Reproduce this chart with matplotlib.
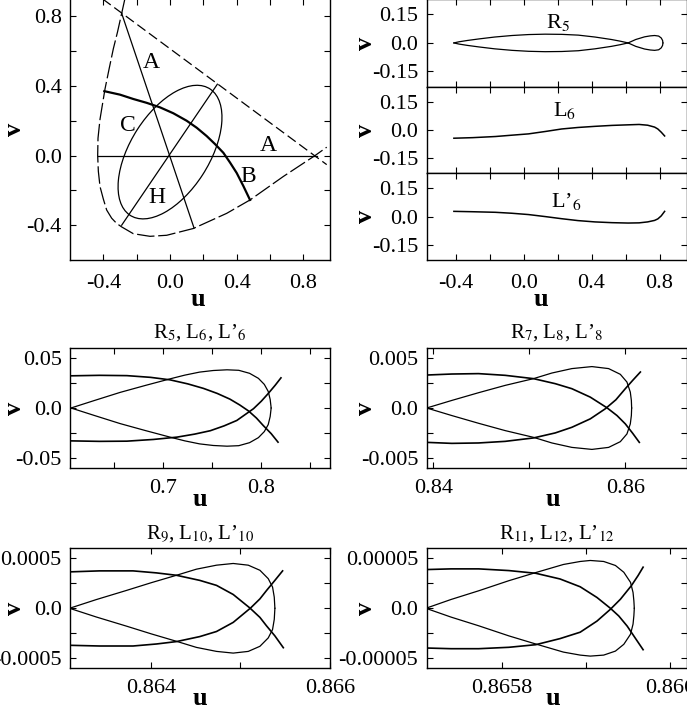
import numpy as np
import matplotlib
matplotlib.use("Agg")
import matplotlib.pyplot as plt
from matplotlib.patches import Ellipse
from matplotlib.ticker import FixedLocator

plt.rcParams['font.family'] = ['Liberation Serif', 'DejaVu Serif']
plt.rcParams['mathtext.fontset'] = 'stix'
plt.rcParams['axes.unicode_minus'] = False
plt.rcParams['font.size'] = 16

# ---- top-left: phase plane sketch ----
bound_u = [-0.27, -0.29, -0.315, -0.34, -0.365, -0.39, -0.42, -0.432, -0.434, -0.43, -0.42,
           -0.40, -0.38, -0.35, -0.32, -0.29, -0.22, -0.12, -0.02, 0.14, 0.34, 0.48, 0.68,
           0.87, 0.94]
bound_v = [0.904, 0.817, 0.71, 0.614, 0.50, 0.383, 0.209, 0.10, 0.0, -0.09, -0.178,
           -0.25, -0.313, -0.36, -0.39, -0.41, -0.449, -0.464, -0.458, -0.419, -0.332, -0.255,
           -0.12, 0.0, 0.048]
diag_u = [-0.41, 0.94]
diag_v = [0.904, -0.052]
axis_u = [-0.434, 0.88]
axis_v = [0.0, 0.0]
lineA_u = [-0.29, 0.144]
lineA_v = [0.817, -0.416]
lineH_u = [-0.29, 0.284]
lineH_v = [-0.40, 0.41]
bc_u = [-0.394, -0.30, -0.22, -0.14, -0.06, 0.02, 0.10, 0.16, 0.22, 0.27, 0.32, 0.36, 0.40,
        0.44, 0.48]
bc_v = [0.37, 0.35, 0.325, 0.303, 0.277, 0.243, 0.20, 0.16, 0.112, 0.066, 0.016, -0.04,
        -0.10, -0.175, -0.255]
ell_center = (0.0, 0.02)
ell_width = 0.87
ell_height = 0.47
ell_angle = 56
region_labels = ['A', 'C', 'A', 'B', 'H']
region_u = [-0.11, -0.254, 0.59, 0.47, -0.08]
region_v = [0.537, 0.174, 0.06, -0.12, -0.24]

# ---- top-right: R5, L6, L'6 full ----
r5_big_u = [-0.41, -0.38, -0.33, -0.263, -0.17, -0.068, 0.03, 0.127, 0.225, 0.322, 0.42,
            0.517, 0.57, 0.615]
r5_big_v = [0.0, 0.006, 0.013, 0.021, 0.031, 0.039, 0.044, 0.046, 0.045, 0.041, 0.031,
            0.018, 0.009, 0.0]
r5_small_u = [0.615, 0.66, 0.712, 0.745, 0.771, 0.795, 0.81, 0.818, 0.82]
r5_small_v = [0.0, 0.018, 0.032, 0.037, 0.039, 0.036, 0.026, 0.013, 0.0]
l6_full_u = [-0.41, -0.3, -0.166, -0.07, 0.029, 0.13, 0.224, 0.32, 0.42, 0.52, 0.615, 0.68,
             0.73, 0.771, 0.79, 0.81, 0.83]
l6_full_v = [-0.044, -0.041, -0.035, -0.028, -0.021, -0.008, 0.005, 0.013, 0.019, 0.024,
             0.027, 0.029, 0.025, 0.015, 0.005, -0.012, -0.032]
l6p_full_v = [0.028, 0.026, 0.023, 0.018, 0.011, 0.0, -0.011, -0.021, -0.028, -0.032,
              -0.034, -0.033, -0.028, -0.020, -0.012, 0.004, 0.028]

# ---- zoomed panels: loop upper half, L and L' ----
z5_loop_u = [0.606, 0.630, 0.656, 0.682, 0.707, 0.722, 0.737, 0.751, 0.765, 0.777, 0.788,
             0.797, 0.803, 0.807, 0.809, 0.810]
z5_loop_v = [0.0, 0.0075, 0.0155, 0.0225, 0.029, 0.0327, 0.0357, 0.0373, 0.0380, 0.0375,
             0.0345, 0.0295, 0.0235, 0.0165, 0.0085, 0.0]
z5_l_u = [0.605, 0.635, 0.663, 0.687, 0.707, 0.725, 0.741, 0.755, 0.768, 0.778, 0.787, 0.795,
          0.802, 0.810, 0.817]
z5_l_v = [0.032, 0.0325, 0.0322, 0.0305, 0.028, 0.024, 0.0195, 0.0145, 0.0088, 0.003, -0.003,
          -0.010, -0.0175, -0.0255, -0.034]
z5_lp_u = [0.605, 0.635, 0.663, 0.690, 0.714, 0.732, 0.748, 0.762, 0.775, 0.784, 0.792, 0.800,
           0.807, 0.814, 0.820]
z5_lp_v = [-0.0327, -0.0332, -0.0330, -0.0313, -0.029, -0.026, -0.0226, -0.0178, -0.0124,
           -0.0062, -0.0007, 0.0068, 0.0144, 0.0225, 0.030]

z7_loop_u = [0.83930, 0.84191, 0.84470, 0.84748, 0.85043, 0.85235, 0.85443, 0.85652, 0.85826,
             0.85948, 0.86017, 0.86052, 0.86063, 0.86066]
z7_loop_v = [0.0, 0.00075, 0.00152, 0.00225, 0.00292, 0.00348, 0.00392, 0.00412, 0.00392,
             0.00335, 0.00258, 0.00158, 0.00075, 0.0]
z7_l_u = [0.83930, 0.84191, 0.84470, 0.84748, 0.85043, 0.85270, 0.85443, 0.85635, 0.85809,
          0.85913, 0.86000, 0.86077, 0.86146]
z7_l_v = [0.00328, 0.00338, 0.00342, 0.00325, 0.00292, 0.00242, 0.00192, 0.00108, 0.00002,
          -0.00075, -0.00158, -0.00252, -0.00342]
z7_lp_u = [0.83930, 0.84191, 0.84470, 0.84748, 0.85043, 0.85270, 0.85443, 0.85635, 0.85791,
           0.85902, 0.86000, 0.86077, 0.86157]
z7_lp_v = [-0.00342, -0.00352, -0.00348, -0.00332, -0.00298, -0.00248, -0.00192, -0.00108,
           -0.00008, 0.00082, 0.00192, 0.00275, 0.00358]

z9_loop_u = [0.863095, 0.863393, 0.863728, 0.864007, 0.864287, 0.864510, 0.864734, 0.864920,
             0.865088, 0.865218, 0.865311, 0.865359, 0.865378, 0.865385]
z9_loop_v = [0.0, 0.000087, 0.000178, 0.000256, 0.000330, 0.000391, 0.000431, 0.000448,
             0.000431, 0.000380, 0.000296, 0.000212, 0.000111, 0.0]
z9_l_u = [0.863095, 0.863430, 0.863803, 0.864063, 0.864287, 0.864547, 0.864734, 0.864920,
          0.865106, 0.865218, 0.865292, 0.865385, 0.865479]
z9_l_v = [0.000364, 0.000374, 0.000374, 0.000354, 0.000330, 0.000279, 0.000229, 0.000138,
          0.000003, -0.000091, -0.000176, -0.000276, -0.000394]
z9_lp_u = [0.863095, 0.863430, 0.863803, 0.864063, 0.864287, 0.864547, 0.864734, 0.864920,
           0.865114, 0.865218, 0.865292, 0.865385, 0.865471]
z9_lp_v = [-0.000370, -0.000377, -0.000377, -0.000357, -0.000333, -0.000283, -0.000232,
           -0.000141, 0.000003, 0.000094, 0.000178, 0.000279, 0.000374]

z11_loop_u = [0.865709, 0.865739, 0.865772, 0.865808, 0.865840, 0.865873, 0.865893, 0.865905,
              0.865921, 0.865935, 0.865945, 0.865953, 0.865956, 0.865957, 0.8659575]
z11_loop_v = [0.0, 0.0000088, 0.0000175, 0.0000276, 0.0000357, 0.0000438, 0.0000468, 0.0000478,
              0.0000468, 0.0000428, 0.0000360, 0.0000259, 0.0000158, 0.0000074, 0.0]
z11_l_u = [0.865709, 0.865739, 0.865772, 0.865808, 0.865840, 0.865869, 0.865893, 0.865913,
           0.865929, 0.865939, 0.865949, 0.865958, 0.865968]
z11_l_v = [0.0000387, 0.0000394, 0.0000394, 0.0000377, 0.0000350, 0.0000293, 0.0000215,
           0.0000108, 0.0, -0.0000077, -0.0000178, -0.0000290, -0.0000414]
z11_lp_u = [0.865709, 0.865739, 0.865772, 0.865808, 0.865840, 0.865869, 0.865893, 0.865913,
            0.865929, 0.865941, 0.865954, 0.865962, 0.865968]
z11_lp_v = [-0.0000397, -0.0000404, -0.0000404, -0.0000390, -0.0000364, -0.0000303, -0.0000239,
            -0.0000128, -0.0000010, 0.0000091, 0.0000226, 0.0000327, 0.0000411]

zoom_titles = [r"R$_5$, L$_6$, L’$_6$", r"R$_7$, L$_8$, L’$_8$",
               r"R$_9$, L$_{10}$, L’$_{10}$", r"R$_{11}$, L$_{12}$, L’$_{12}$"]
zoom_xlims = [(0.605, 0.87), (0.8393, 0.8664), (0.8631, 0.866), (0.86571, 0.86602)]
zoom_ylims = [0.06, 0.006, 0.0006, 0.00006]
zoom_xticks = [[0.7, 0.8], [0.84, 0.86], [0.864, 0.866], [0.8658, 0.866]]
zoom_xticklabels = [["0.7", "0.8"], ["0.84", "0.86"], ["0.864", "0.866"], ["0.8658", "0.866"]]
zoom_xminor = [[0.65, 0.75, 0.85], [0.85], [0.865], [0.8659]]
zoom_yticks = [0.05, 0.005, 0.0005, 0.00005]
zoom_yticklabels = [["-0.05", "0.0", "0.05"], ["-0.005", "0.0", "0.005"],
                    ["-0.0005", "0.0", "0.0005"], ["-0.00005", "0.0", "0.00005"]]

LW = 0.9
LAB = dict(fontsize=19, fontweight='bold')


def style(ax):
    ax.tick_params(which='both', direction='in', top=True, right=True, length=4, width=0.8)
    for s in ax.spines.values():
        s.set_linewidth(1.0)


def labels(ax, ux, uy, vx):
    ax.set_xlabel('u', **LAB)
    ax.set_ylabel('v', **LAB)
    ax.xaxis.label.set_va('center')
    ax.yaxis.label.set_va('center')
    ax.xaxis.set_label_coords(ux, uy)
    ax.yaxis.set_label_coords(vx, 0.5)


fig = plt.figure(figsize=(6.87, 7.09), dpi=100)

# top-left
ax = fig.add_axes([0.1019, 0.6333, 0.3785, 0.3682])
ax.plot(bound_u, bound_v, color='k', lw=LW, ls=(0, (14, 3)))
ax.plot(diag_u, diag_v, color='k', lw=LW, ls=(0, (8, 3.5)))
ax.plot(axis_u, axis_v, color='k', lw=LW)
ax.plot(lineA_u, lineA_v, color='k', lw=LW)
ax.plot(lineH_u, lineH_v, color='k', lw=LW)
ax.plot(bc_u, bc_v, color='k', lw=1.6)
ax.add_patch(Ellipse(ell_center, ell_width, ell_height, angle=ell_angle,
                     fill=False, ec='k', lw=LW))
for t, x, y in zip(region_labels, region_u, region_v):
    ax.text(x, y, t, ha='center', va='center', fontsize=17)
ax.set_xlim(-0.6, 0.96)
ax.set_ylim(-0.6, 0.9)
ax.xaxis.set_major_locator(FixedLocator([-0.4, 0.0, 0.4, 0.8]))
ax.yaxis.set_major_locator(FixedLocator([-0.4, 0.0, 0.4, 0.8]))
ax.xaxis.set_minor_locator(FixedLocator([-0.2, 0.2, 0.6]))
ax.yaxis.set_minor_locator(FixedLocator([-0.2, 0.2, 0.6]))
ax.set_xticklabels(["-0.4", "0.0", "0.4", "0.8"])
ax.set_yticklabels(["-0.4", "0.0", "0.4", "0.8"])
style(ax)
ax.tick_params(axis='x', pad=10)
ax.tick_params(axis='y', pad=6)
labels(ax, 0.49, -0.153, -0.215)

# top-right stack
bottoms = [0.8777, 0.7556, 0.6333]
names = [r"R$_5$", r"L$_6$", r"L’$_6$"]
name_u = [0.205, 0.244, 0.253]
name_v = [0.106, 0.102, 0.081]
for i, b in enumerate(bottoms):
    a = fig.add_axes([0.6211, b, 0.3785, 0.1223 if i else 0.1235])
    if i == 0:
        a.plot(r5_big_u, r5_big_v, color='k', lw=LW)
        a.plot(r5_big_u, [-v for v in r5_big_v], color='k', lw=LW)
        a.plot(r5_small_u, r5_small_v, color='k', lw=LW)
        a.plot(r5_small_u, [-v for v in r5_small_v], color='k', lw=LW)
    elif i == 1:
        a.plot(l6_full_u, l6_full_v, color='k', lw=1.1)
    else:
        a.plot(l6_full_u, l6p_full_v, color='k', lw=1.1)
    a.text(name_u[i], name_v[i], names[i], ha='center', va='center', fontsize=16)
    a.set_xlim(-0.57, 0.96)
    a.set_ylim(-0.23, 0.23)
    a.xaxis.set_major_locator(FixedLocator([-0.4, 0.0, 0.4, 0.8]))
    a.xaxis.set_minor_locator(FixedLocator([-0.2, 0.2, 0.6]))
    a.yaxis.set_major_locator(FixedLocator([-0.15, 0.0, 0.15]))
    a.set_yticklabels(["-0.15", "0.0", "0.15"])
    style(a)
    a.tick_params(axis='y', pad=6)
    a.set_ylabel('v', **LAB)
    a.yaxis.label.set_va('center')
    a.yaxis.set_label_coords(-0.237, 0.5)
    if i == 2:
        a.set_xticklabels(["-0.4", "0.0", "0.4", "0.8"])
        a.tick_params(axis='x', pad=10)
        a.set_xlabel('u', **LAB)
        a.xaxis.label.set_va('center')
        a.xaxis.set_label_coords(0.44, -0.46)
    else:
        a.set_xticklabels([])

# zoomed panels
zoom_data = [
    (z5_loop_u, z5_loop_v, z5_l_u, z5_l_v, z5_lp_u, z5_lp_v),
    (z7_loop_u, z7_loop_v, z7_l_u, z7_l_v, z7_lp_u, z7_lp_v),
    (z9_loop_u, z9_loop_v, z9_l_u, z9_l_v, z9_lp_u, z9_lp_v),
    (z11_loop_u, z11_loop_v, z11_l_u, z11_l_v, z11_lp_u, z11_lp_v),
]
rects = [[0.1019, 0.3395, 0.3785, 0.1701], [0.6211, 0.3395, 0.3785, 0.1701],
         [0.1019, 0.0574, 0.3785, 0.1693], [0.6211, 0.0574, 0.3785, 0.1693]]
for k in range(4):
    a = fig.add_axes(rects[k])
    lu, lv, au, av, bu, bv = zoom_data[k]
    a.plot(lu, lv, color='k', lw=LW)
    a.plot(lu, [-v for v in lv], color='k', lw=LW)
    a.plot(au, av, color='k', lw=1.2)
    a.plot(bu, bv, color='k', lw=1.2)
    a.set_xlim(*zoom_xlims[k])
    a.set_ylim(-zoom_ylims[k], zoom_ylims[k])
    a.xaxis.set_major_locator(FixedLocator(zoom_xticks[k]))
    a.xaxis.set_minor_locator(FixedLocator(zoom_xminor[k]))
    a.set_xticklabels(zoom_xticklabels[k])
    yt = zoom_yticks[k]
    a.yaxis.set_major_locator(FixedLocator([-yt, 0.0, yt]))
    a.yaxis.set_minor_locator(FixedLocator([-yt / 2, yt / 2]))
    a.set_yticklabels(zoom_yticklabels[k])
    style(a)
    a.tick_params(axis='x', pad=8)
    a.tick_params(axis='y', pad=6)
    a.set_title(zoom_titles[k], fontsize=15, pad=7)
    labels(a, 0.5 if k % 2 == 0 else 0.487, -0.255, -0.215 if k % 2 == 0 else -0.237)

fig.savefig('out.png', dpi=100)
